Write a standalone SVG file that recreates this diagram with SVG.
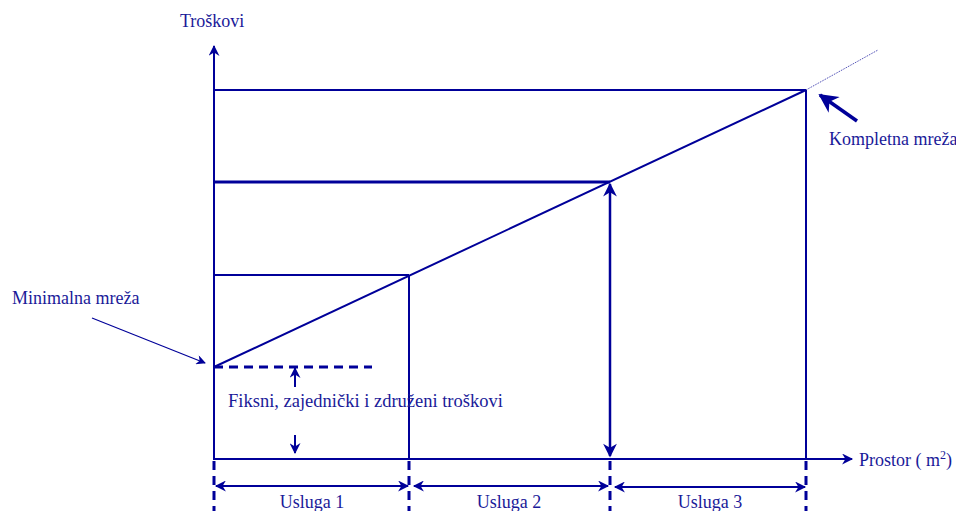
<svg xmlns="http://www.w3.org/2000/svg" width="956" height="511" viewBox="0 0 956 511">
<style>
.ln{stroke:#000099;stroke-width:2;fill:none}
.tk{stroke:#000099;stroke-width:3;fill:none}
.ds{stroke:#000099;stroke-width:3;fill:none;stroke-dasharray:9,6}
.tx{font-family:"Liberation Serif",serif;font-size:18px;fill:#1a1a99}
</style>
<defs>
<marker id="ah" viewBox="0 0 10 10" refX="9" refY="5" markerWidth="6.5" markerHeight="5.5" orient="auto-start-reverse" markerUnits="strokeWidth">
<path d="M0,0 L10,5 L0,10 L3,5 z" fill="#000099"/>
</marker>
<marker id="ahs" viewBox="0 0 10 10" refX="9" refY="5" markerWidth="10" markerHeight="8" orient="auto" markerUnits="strokeWidth">
<path d="M0,0 L10,5 L0,10 L3,5 z" fill="#000099"/>
</marker>
</defs>
<rect width="956" height="511" fill="#fff"/>
<g id="connectors">
<line class="ln" x1="214" y1="460" x2="214" y2="46" marker-end="url(#ah)"/>
<line class="ln" x1="214" y1="459" x2="852" y2="459" marker-end="url(#ah)"/>
<line class="ln" x1="214" y1="367" x2="806" y2="90"/>
<line x1="806" y1="90" x2="878" y2="50" stroke="#3333aa" stroke-width="1" stroke-dasharray="1,1"/>
<line class="ln" x1="214" y1="90" x2="806" y2="90"/>
<line class="tk" x1="214" y1="182" x2="610" y2="182"/>
<line class="ln" x1="214" y1="275" x2="409" y2="275"/>
<line class="ln" x1="806" y1="90" x2="806" y2="460"/>
<line class="ln" x1="409" y1="275" x2="409" y2="460"/>
<line class="tk" x1="610" y1="184" x2="610" y2="456" marker-start="url(#ah)" marker-end="url(#ah)" style="stroke-width:2.5"/>
<line class="ds" x1="214" y1="367" x2="372" y2="367"/>
<line class="ln" x1="295" y1="387" x2="295" y2="368" marker-end="url(#ah)"/>
<line class="ln" x1="295" y1="435" x2="295" y2="453" marker-end="url(#ah)"/>
<line x1="92" y1="318" x2="205" y2="363" stroke="#000099" stroke-width="1.2" marker-end="url(#ahs)"/>
<line x1="857" y1="121" x2="820" y2="95" stroke="#000099" stroke-width="3.5" marker-end="url(#ah)"/>
<line class="ds" x1="214" y1="461" x2="214" y2="511"/>
<line class="ds" x1="409" y1="461" x2="409" y2="511"/>
<line class="ds" x1="610" y1="461" x2="610" y2="511"/>
<line class="ds" x1="806" y1="461" x2="806" y2="511"/>
<line class="ln" x1="216" y1="486" x2="408" y2="486" marker-start="url(#ah)" marker-end="url(#ah)"/>
<line class="ln" x1="414" y1="486" x2="608" y2="486" marker-start="url(#ah)" marker-end="url(#ah)"/>
<line class="ln" x1="615" y1="487" x2="805" y2="487" marker-start="url(#ah)" marker-end="url(#ah)"/>
</g>
<g id="label-troskovi"><text class="tx" x="180" y="27">Troškovi</text></g>
<g id="label-kompletna"><text class="tx" x="829" y="145">Kompletna mreža</text></g>
<g id="label-minimalna"><text class="tx" x="12" y="304">Minimalna mreža</text></g>
<g id="label-fiksni"><text class="tx" x="228" y="407" style="font-size:18.5px">Fiksni, zajednički i združeni troškovi</text></g>
<g id="label-prostor"><text class="tx" x="859" y="466">Prostor ( m<tspan font-size="12" dy="-7">2</tspan><tspan dy="7">)</tspan></text></g>
<g id="label-usluga1"><text class="tx" x="312" y="508" text-anchor="middle">Usluga 1</text></g>
<g id="label-usluga2"><text class="tx" x="509" y="508" text-anchor="middle">Usluga 2</text></g>
<g id="label-usluga3"><text class="tx" x="710" y="508" text-anchor="middle">Usluga 3</text></g>
</svg>
